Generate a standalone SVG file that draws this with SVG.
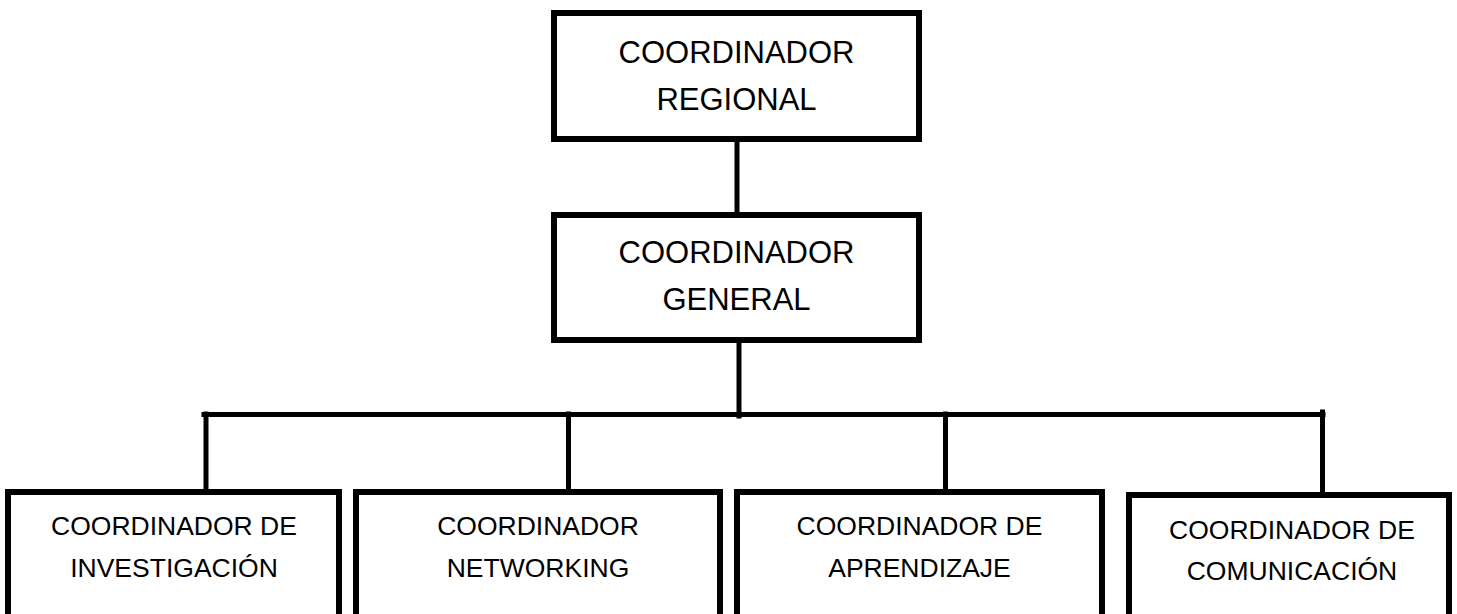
<svg xmlns="http://www.w3.org/2000/svg" width="1457" height="614" viewBox="0 0 1457 614">
  <style>
    .box { fill: #ffffff; stroke: #000000; stroke-width: 6; }
    .wire { fill: none; stroke: #000000; stroke-width: 5; stroke-linecap: square; }
    .lbl { font-family: "Liberation Sans", Arial, sans-serif; fill: #000000; text-anchor: middle; }
    .big { font-size: 31px; }
    .small { font-size: 26.5px; }
  </style>
  <rect x="0" y="0" width="1457" height="614" fill="#ffffff"/>

  <!-- connectors -->
  <g id="connectors">
    <line class="wire" x1="737" y1="142" x2="737" y2="210"/>
    <line class="wire" x1="739" y1="343" x2="739" y2="416"/>
    <line class="wire" x1="204" y1="414.5" x2="1323" y2="414.5"/>
    <line class="wire" x1="206" y1="414" x2="206" y2="489"/>
    <line class="wire" x1="568.5" y1="414" x2="568.5" y2="489"/>
    <line class="wire" x1="945.5" y1="414" x2="945.5" y2="489"/>
    <line class="wire" x1="1322.5" y1="412" x2="1322.5" y2="492"/>
  </g>

  <!-- top level -->
  <g id="coordinador-regional">
    <rect class="box" x="554" y="13" width="365" height="126"/>
    <text class="lbl big" x="736.5" y="63">COORDINADOR</text>
    <text class="lbl big" x="736.5" y="110">REGIONAL</text>
  </g>

  <g id="coordinador-general">
    <rect class="box" x="554" y="215" width="365" height="125"/>
    <text class="lbl big" x="736.5" y="263">COORDINADOR</text>
    <text class="lbl big" x="736.5" y="310">GENERAL</text>
  </g>

  <!-- area coordinators; their lower edges run off the sheet -->
  <g id="coordinador-investigacion">
    <rect class="box" x="8" y="492" width="331" height="140"/>
    <text class="lbl small" x="174" y="535">COORDINADOR DE</text>
    <text class="lbl small" x="174" y="577">INVESTIGACIÓN</text>
  </g>

  <g id="coordinador-networking">
    <rect class="box" x="356" y="492" width="364" height="140"/>
    <text class="lbl small" x="538" y="535">COORDINADOR</text>
    <text class="lbl small" x="538" y="577">NETWORKING</text>
  </g>

  <g id="coordinador-aprendizaje">
    <rect class="box" x="737" y="492" width="365" height="140"/>
    <text class="lbl small" x="919.5" y="535">COORDINADOR DE</text>
    <text class="lbl small" x="919.5" y="577">APRENDIZAJE</text>
  </g>

  <g id="coordinador-comunicacion">
    <rect class="box" x="1129" y="495" width="320" height="140"/>
    <text class="lbl small" x="1292" y="539">COORDINADOR DE</text>
    <text class="lbl small" x="1292" y="580">COMUNICACIÓN</text>
  </g>
</svg>
